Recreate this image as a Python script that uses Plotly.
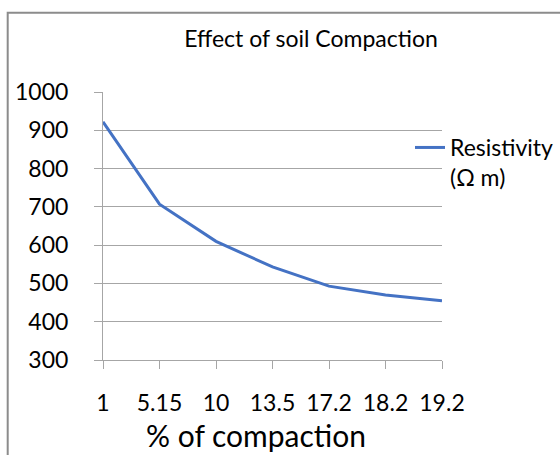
import plotly.graph_objects as go

categories = ["1", "5.15", "10", "13.5", "17.2", "18.2", "19.2"]
resistivity = [922, 707, 610, 543, 493, 470, 455]
series_name = "Resistivity<br>(Ω m)"
chart_title = "Effect of soil Compaction"
x_title = "% of compaction"

W, H = 560, 455
L, R, T, B = 103, 118, 92, 95
pw, ph = W - L - R, H - T - B

def px_x(x):
    return (x - L) / pw

def px_y(y):
    return (H - B - y) / ph

grid = "#a6a6a6"
font = "Lato"
fs = 23

fig = go.Figure()
fig.add_trace(go.Scatter(
    x=categories, y=resistivity, mode="lines", name=series_name,
    line=dict(color="#4472C4", width=3), showlegend=True,
))

fig.update_layout(
    width=W, height=H,
    margin=dict(l=L, r=R, t=T, b=B, autoexpand=False),
    paper_bgcolor="white", plot_bgcolor="white",
    font=dict(family=font, color="#000000", size=fs),
    title=dict(text=chart_title, x=px_x(311), xref="paper", xanchor="center",
               y=1 - 39 / H, yref="container", yanchor="middle",
               font=dict(size=fs, family=font, color="#000000")),
    xaxis=dict(type="category", range=[0, 6], showgrid=False,
               showline=True, linecolor=grid, linewidth=1,
               ticks="outside", ticklen=8, tickcolor=grid, tickwidth=1,
               ticklabelstandoff=14, automargin=False,
               tickfont=dict(size=fs)),
    yaxis=dict(range=[300, 1000], dtick=100, showgrid=True, gridcolor=grid,
               gridwidth=1, zeroline=False, showline=True, linecolor=grid,
               linewidth=1, ticks="outside", ticklen=8, tickcolor=grid,
               tickwidth=1, ticklabelstandoff=21, automargin=False,
               tickfont=dict(size=fs)),
    legend=dict(x=px_x(410), y=px_y(126), xanchor="left", yanchor="top",
                bgcolor="rgba(0,0,0,0)", borderwidth=0, valign="top",
                font=dict(size=fs)),
    annotations=[dict(text=x_title, xref="paper", yref="paper",
                      x=px_x(256), y=px_y(455), xanchor="center",
                      yanchor="bottom", showarrow=False,
                      font=dict(size=30, family=font, color="#000000"))],
    shapes=[dict(type="rect", xref="paper", yref="paper",
                 x0=px_x(7.7), x1=px_x(700), y0=px_y(600), y1=px_y(12.7),
                 line=dict(color="#8c8c8c", width=2), layer="above")],
)

fig.write_html(
    "out.html",
    config={"displayModeBar": False},
    post_script="document.body.style.margin='0';document.body.style.overflow='hidden';",
)
